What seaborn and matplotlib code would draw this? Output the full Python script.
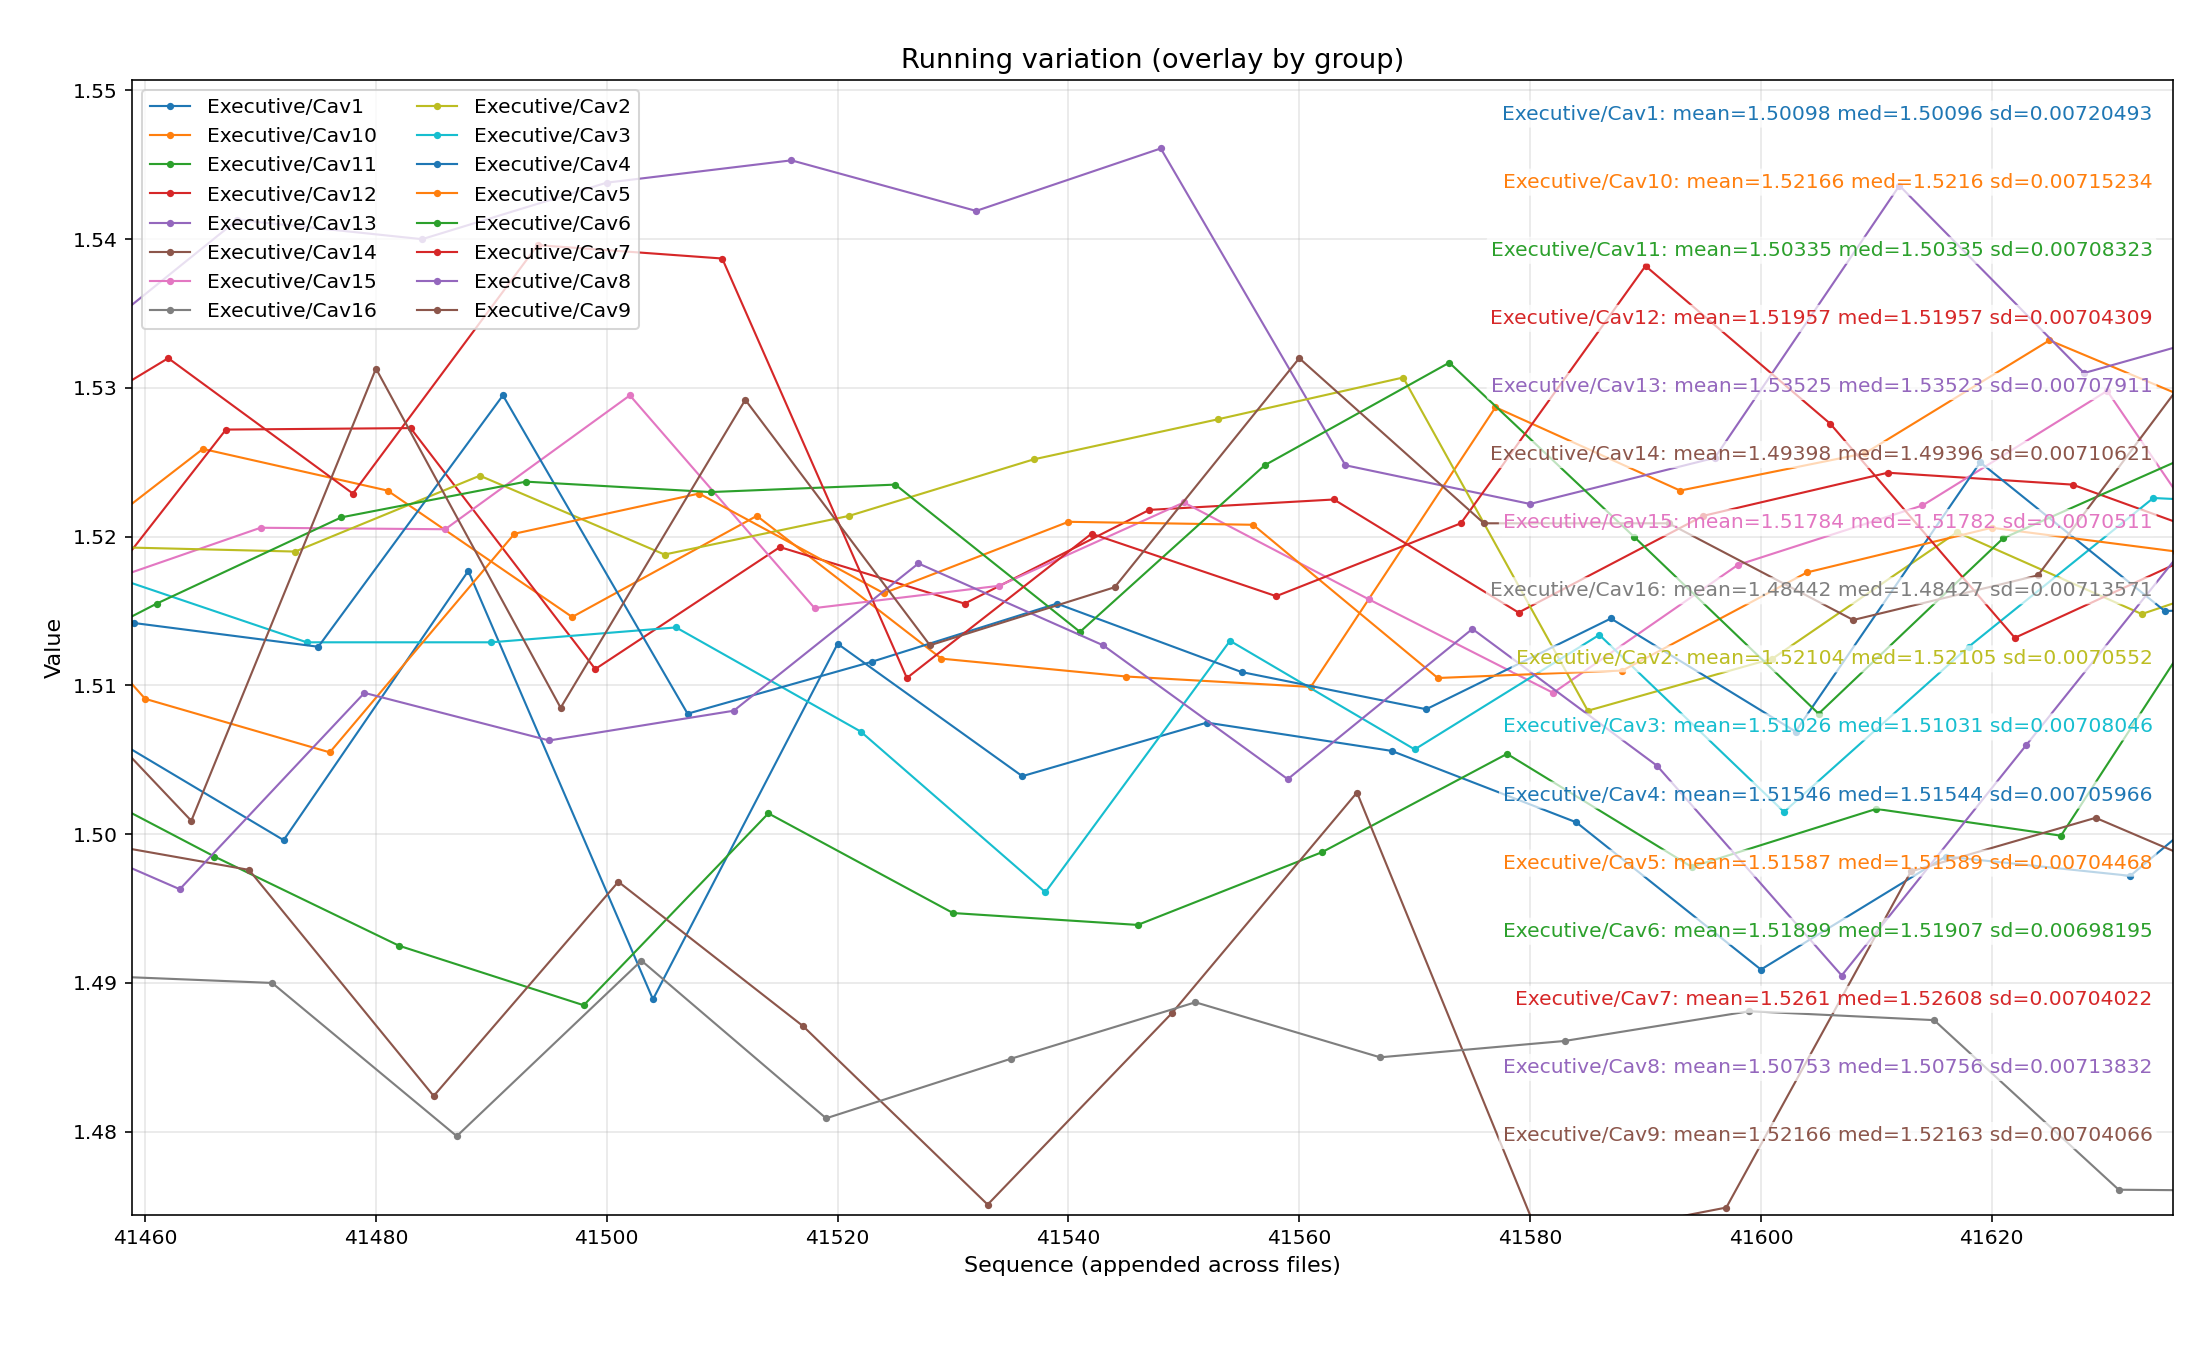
import seaborn as sns
import matplotlib
matplotlib.use("Agg")
import matplotlib.pyplot as plt

# sequence index / value per group
cav1_x = [41456, 41472, 41488, 41504, 41520, 41536, 41552, 41568, 41584, 41600, 41616, 41632, 41648]
cav1_y = [1.5070, 1.4996, 1.5177, 1.4889, 1.5128, 1.5039, 1.5075, 1.5056, 1.5008, 1.4909, 1.4985, 1.4972, 1.5076]

cav10_x = [41449, 41465, 41481, 41497, 41513, 41529, 41545, 41561, 41577, 41593, 41609, 41625, 41641]
cav10_y = [1.5163, 1.5259, 1.5231, 1.5146, 1.5214, 1.5118, 1.5106, 1.5099, 1.5287, 1.5231, 1.5256, 1.5332, 1.5280]

cav11_x = [41450, 41466, 41482, 41498, 41514, 41530, 41546, 41562, 41578, 41594, 41610, 41626, 41642]
cav11_y = [1.5050, 1.4985, 1.4925, 1.4885, 1.5014, 1.4947, 1.4939, 1.4988, 1.5054, 1.4978, 1.5017, 1.4999, 1.5190]

cav12_x = [41451, 41467, 41483, 41499, 41515, 41531, 41547, 41563, 41579, 41595, 41611, 41627, 41643]
cav12_y = [1.5113, 1.5272, 1.5273, 1.5111, 1.5193, 1.5155, 1.5218, 1.5225, 1.5149, 1.5214, 1.5243, 1.5235, 1.5190]

cav13_x = [41452, 41468, 41484, 41500, 41516, 41532, 41548, 41564, 41580, 41596, 41612, 41628, 41644]
cav13_y = [1.5313, 1.5413, 1.5400, 1.5438, 1.5453, 1.5419, 1.5461, 1.5248, 1.5222, 1.5253, 1.5436, 1.5310, 1.5345]

cav14_x = [41453, 41469, 41485, 41501, 41517, 41533, 41549, 41565, 41581, 41597, 41613, 41629, 41645]
cav14_y = [1.4998, 1.4976, 1.4824, 1.4968, 1.4871, 1.4751, 1.4880, 1.5028, 1.4725, 1.4749, 1.4975, 1.5011, 1.4958]

cav15_x = [41454, 41470, 41486, 41502, 41518, 41534, 41550, 41566, 41582, 41598, 41614, 41630, 41646]
cav15_y = [1.5163, 1.5206, 1.5205, 1.5295, 1.5152, 1.5167, 1.5223, 1.5158, 1.5095, 1.5181, 1.5221, 1.5298, 1.5116]

cav16_x = [41455, 41471, 41487, 41503, 41519, 41535, 41551, 41567, 41583, 41599, 41615, 41631, 41647]
cav16_y = [1.4905, 1.4900, 1.4797, 1.4915, 1.4809, 1.4849, 1.4887, 1.4850, 1.4861, 1.4881, 1.4875, 1.4761, 1.4760]

cav2_x = [41457, 41473, 41489, 41505, 41521, 41537, 41553, 41569, 41585, 41601, 41617, 41633, 41649]
cav2_y = [1.5193, 1.5190, 1.5241, 1.5188, 1.5214, 1.5252, 1.5279, 1.5307, 1.5083, 1.5118, 1.5203, 1.5148, 1.5190]

cav3_x = [41458, 41474, 41490, 41506, 41522, 41538, 41554, 41570, 41586, 41602, 41618, 41634, 41650]
cav3_y = [1.5171, 1.5129, 1.5129, 1.5139, 1.5069, 1.4961, 1.5130, 1.5057, 1.5134, 1.5015, 1.5126, 1.5226, 1.5220]

cav4_x = [41443, 41459, 41475, 41491, 41507, 41523, 41539, 41555, 41571, 41587, 41603, 41619, 41635, 41651]
cav4_y = [1.5140, 1.5142, 1.5126, 1.5295, 1.5081, 1.5116, 1.5155, 1.5109, 1.5084, 1.5145, 1.5069, 1.5250, 1.5150, 1.5155]

cav5_x = [41444, 41460, 41476, 41492, 41508, 41524, 41540, 41556, 41572, 41588, 41604, 41620, 41636, 41652]
cav5_y = [1.5230, 1.5091, 1.5055, 1.5202, 1.5229, 1.5162, 1.5210, 1.5208, 1.5105, 1.5110, 1.5176, 1.5206, 1.5190, 1.5180]

cav6_x = [41445, 41461, 41477, 41493, 41509, 41525, 41541, 41557, 41573, 41589, 41605, 41621, 41637]
cav6_y = [1.5091, 1.5155, 1.5213, 1.5237, 1.5230, 1.5235, 1.5136, 1.5248, 1.5317, 1.5200, 1.5081, 1.5199, 1.5254]

cav7_x = [41446, 41462, 41478, 41494, 41510, 41526, 41542, 41558, 41574, 41590, 41606, 41622, 41638]
cav7_y = [1.5245, 1.5320, 1.5229, 1.5396, 1.5387, 1.5105, 1.5202, 1.5160, 1.5209, 1.5382, 1.5276, 1.5132, 1.5189]

cav8_x = [41447, 41463, 41479, 41495, 41511, 41527, 41543, 41559, 41575, 41591, 41607, 41623, 41639]
cav8_y = [1.5017, 1.4963, 1.5095, 1.5063, 1.5083, 1.5182, 1.5127, 1.5037, 1.5138, 1.5046, 1.4905, 1.5060, 1.5215]

cav9_x = [41448, 41464, 41480, 41496, 41512, 41528, 41544, 41560, 41576, 41592, 41608, 41624, 41640]
cav9_y = [1.5140, 1.5009, 1.5313, 1.5085, 1.5292, 1.5127, 1.5166, 1.5320, 1.5209, 1.5209, 1.5144, 1.5174, 1.5340]

groups = ["Executive/Cav1", "Executive/Cav10", "Executive/Cav11", "Executive/Cav12",
          "Executive/Cav13", "Executive/Cav14", "Executive/Cav15", "Executive/Cav16",
          "Executive/Cav2", "Executive/Cav3", "Executive/Cav4", "Executive/Cav5",
          "Executive/Cav6", "Executive/Cav7", "Executive/Cav8", "Executive/Cav9"]
xs = [cav1_x, cav10_x, cav11_x, cav12_x, cav13_x, cav14_x, cav15_x, cav16_x,
      cav2_x, cav3_x, cav4_x, cav5_x, cav6_x, cav7_x, cav8_x, cav9_x]
ys = [cav1_y, cav10_y, cav11_y, cav12_y, cav13_y, cav14_y, cav15_y, cav16_y,
      cav2_y, cav3_y, cav4_y, cav5_y, cav6_y, cav7_y, cav8_y, cav9_y]

# summary stats shown on the right
means = ["1.50098", "1.52166", "1.50335", "1.51957", "1.53525", "1.49398", "1.51784", "1.48442",
         "1.52104", "1.51026", "1.51546", "1.51587", "1.51899", "1.5261", "1.50753", "1.52166"]
meds = ["1.50096", "1.5216", "1.50335", "1.51957", "1.53523", "1.49396", "1.51782", "1.48427",
        "1.52105", "1.51031", "1.51544", "1.51589", "1.51907", "1.52608", "1.50756", "1.52163"]
sds = ["0.00720493", "0.00715234", "0.00708323", "0.00704309", "0.00707911", "0.00710621",
       "0.0070511", "0.00713571", "0.0070552", "0.00708046", "0.00705966", "0.00704468",
       "0.00698195", "0.00704022", "0.00713832", "0.00704066"]

colors = sns.color_palette("tab10")

fig, ax = plt.subplots(figsize=(2196 / 145.5, 1347 / 145.5), dpi=145.5)

for i, g in enumerate(groups):
    sns.lineplot(x=xs[i], y=ys[i], ax=ax, color=colors[i % 10], label=g,
                 marker="o", markersize=3.6, markeredgewidth=0, linewidth=1.05,
                 estimator=None, sort=True)

for i, g in enumerate(groups):
    txt = f"{g}: mean={means[i]} med={meds[i]} sd={sds[i]}"
    ax.text(0.99, 0.97 - 0.06 * i, txt, transform=ax.transAxes, ha="right", va="center",
            color=colors[i % 10], fontsize=10,
            bbox=dict(boxstyle="round,pad=0.2", facecolor="white", edgecolor="none", alpha=0.7))

ax.set_xlim(41458.84, 41635.7)
ax.set_ylim(1.4744, 1.5507)
ax.grid(True, alpha=0.3)
ax.set_title("Running variation (overlay by group)", fontsize=13.5)
ax.set_xlabel("Sequence (appended across files)", fontsize=11)
ax.set_ylabel("Value", fontsize=11)
ax.legend(loc="upper left", ncol=2)

plt.subplots_adjust(left=0.060, right=0.9895, top=0.9406, bottom=0.098)
plt.savefig("out.png", dpi=145.5)
